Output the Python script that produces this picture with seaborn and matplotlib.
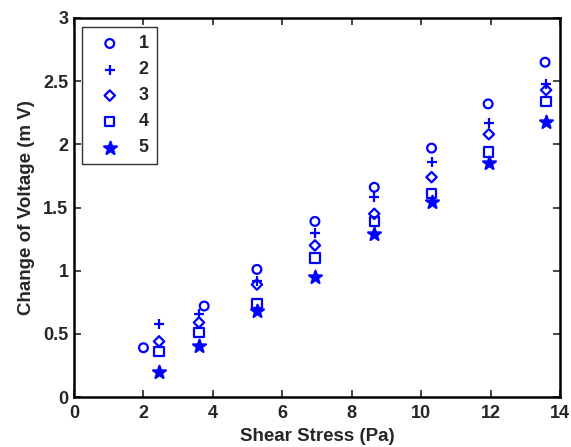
import numpy as np
import pandas as pd
import matplotlib
matplotlib.use('Agg')
import matplotlib.pyplot as plt
import seaborn as sns

# dados
x_s1 = [2.0, 3.75, 5.27, 6.94, 8.65, 10.3, 11.93, 13.57]
x_rest = [2.45, 3.6, 5.27, 6.94, 8.65, 10.3, 11.95, 13.6]
v1 = [0.39, 0.72, 1.01, 1.39, 1.66, 1.97, 2.32, 2.65]
v2 = [0.58, 0.66, 0.92, 1.30, 1.58, 1.86, 2.17, 2.48]
v3 = [0.44, 0.59, 0.89, 1.20, 1.45, 1.74, 2.08, 2.43]
v4 = [0.36, 0.51, 0.74, 1.10, 1.39, 1.61, 1.94, 2.34]
v5 = [0.20, 0.40, 0.68, 0.95, 1.29, 1.54, 1.85, 2.18]
labels = ['1', '2', '3', '4', '5']
x_ticks = [0, 2, 4, 6, 8, 10, 12, 14]
y_ticks = [0, 0.5, 1, 1.5, 2, 2.5, 3]
y_ticklabels = ['0', '0.5', '1', '1.5', '2', '2.5', '3']

sns.set_style('ticks')
plt.rcParams['font.family'] = ['Liberation Sans', 'DejaVu Sans']
plt.rcParams['font.weight'] = 'bold'
plt.rcParams['axes.labelweight'] = 'bold'

fig = plt.figure(figsize=(5.71, 4.47), dpi=100)
ax = fig.add_axes([74 / 571, 50 / 447, 486 / 571, 379 / 447])

azul = '#0000ff'
series = [
    (x_s1, v1, 'o', True, 40),
    (x_rest, v2, '+', False, 50),
    (x_rest, v3, 'D', True, 28),
    (x_rest, v4, 's', True, 45),
    (x_rest, v5, '*', False, 95),
]
for (xs, ys, m, aberto, tam), lab in zip(series, labels):
    df = pd.DataFrame({'x': xs, 'y': ys})
    if aberto:
        sns.scatterplot(data=df, x='x', y='y', marker=m, s=tam, color=azul,
                        facecolor='none', edgecolor=azul, linewidth=1.6,
                        label=lab, ax=ax)
    else:
        sns.scatterplot(data=df, x='x', y='y', marker=m, s=tam, color=azul,
                        edgecolor=azul, linewidth=1.6, label=lab, ax=ax)

ax.set_xlim(0, 14)
ax.set_ylim(0, 3)
ax.set_xticks(x_ticks)
ax.set_yticks(y_ticks)
ax.set_yticklabels(y_ticklabels)
ax.tick_params(direction='in', length=5, width=1.2, top=True, right=True,
               labelsize=13, pad=4)
ax.tick_params(axis='x', pad=6)
for sp in ax.spines.values():
    sp.set_visible(True)
    sp.set_linewidth(1.8)
    sp.set_color('black')
ax.set_xlabel('Shear Stress (Pa)', fontsize=13.5, labelpad=4)
ax.set_ylabel('Change of Voltage (m V)', fontsize=13.5, labelpad=6)

leg = ax.legend(loc='upper left', bbox_to_anchor=(0.016, 0.976), fontsize=13,
                frameon=True, fancybox=False, edgecolor='black',
                borderpad=0.45, labelspacing=0.5, handletextpad=0.5,
                handlelength=2.2, borderaxespad=0)
leg.get_frame().set_linewidth(1.0)

fig.savefig('out.png', dpi=100)
